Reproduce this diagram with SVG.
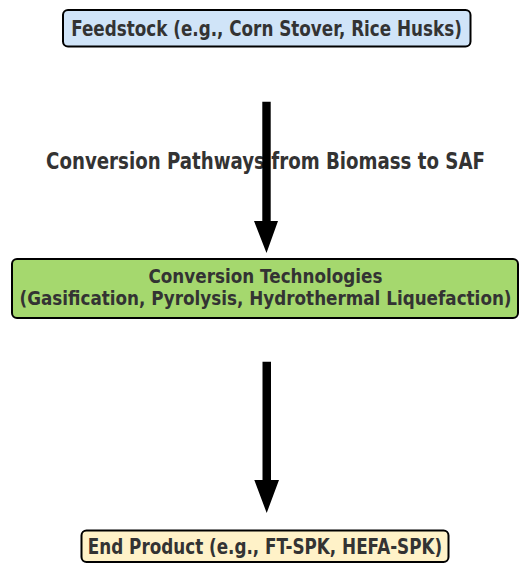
<svg xmlns="http://www.w3.org/2000/svg" width="519" height="563" viewBox="0 0 519 563">
<style>
.box{stroke:#000;stroke-width:2}
.t{font-family:"DejaVu Sans",sans-serif;font-weight:bold;fill:#333333;text-anchor:middle}
.n{font-size:16.8px}
.title{font-size:18.2px}
.arrow{fill:#000;stroke:none}
</style>
<rect width="519" height="563" fill="#ffffff"/>
<g id="title">
<text class="t title" transform="translate(265.5,169) scale(1,1.25)">Conversion Pathways from Biomass to SAF</text>
</g>
<g id="feedstock">
<rect class="box" x="63" y="10" width="407.5" height="36.5" rx="5" fill="#d0e4f8"/>
<text class="t n" transform="translate(266.5,36) scale(1,1.25)">Feedstock (e.g., Corn Stover, Rice Husks)</text>
</g>
<g id="conversion">
<rect class="box" x="12" y="259" width="506" height="59" rx="5" fill="#a5d86e"/>
<text class="t n" transform="translate(265.5,282.5) scale(1,1.2)">Conversion Technologies</text>
<text class="t n" transform="translate(265.5,305) scale(1,1.2)">(Gasification, Pyrolysis, Hydrothermal Liquefaction)</text>
</g>
<g id="product">
<rect class="box" x="81.5" y="530.5" width="367" height="31.5" rx="5" fill="#fff2c8"/>
<text class="t n" transform="translate(265,553.5) scale(1,1.25)">End Product (e.g., FT-SPK, HEFA-SPK)</text>
</g>
<g id="connectors">
<path class="arrow" d="M262.3,101.7 H270.7 V221 H278 L266.5,253 L254,221 H262.3 Z"/>
<path class="arrow" d="M262.5,361.7 H271 V480 H279 L266.7,513 L254.3,480 H262.5 Z"/>
</g>
</svg>
